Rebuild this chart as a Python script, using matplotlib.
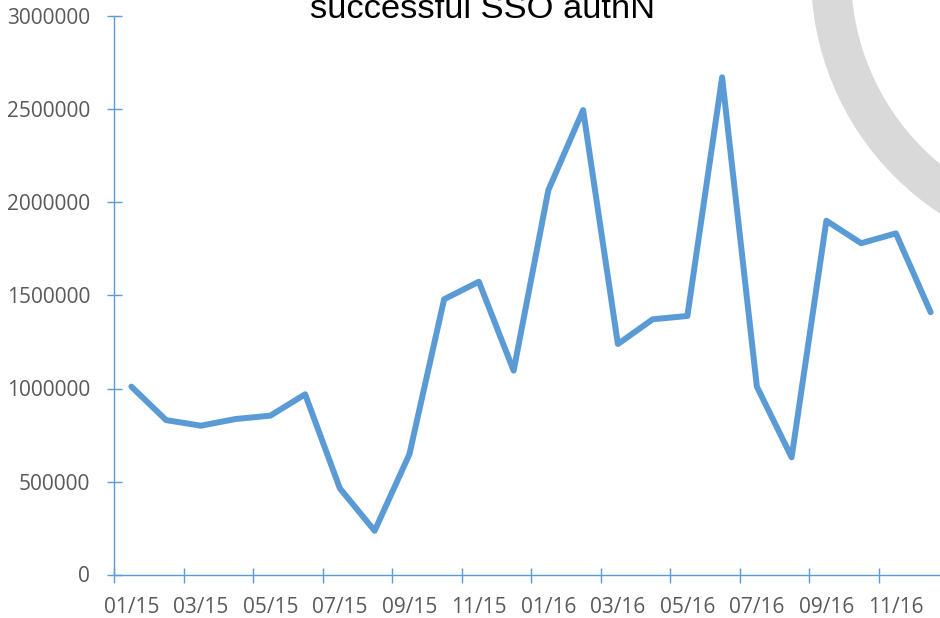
import matplotlib
matplotlib.use("Agg")
import matplotlib.pyplot as plt
import matplotlib.transforms as mtransforms
from matplotlib.patches import Circle

# monthly counts, 01/15 .. 12/16
months = ["01/15", "02/15", "03/15", "04/15", "05/15", "06/15",
          "07/15", "08/15", "09/15", "10/15", "11/15", "12/15",
          "01/16", "02/16", "03/16", "04/16", "05/16", "06/16",
          "07/16", "08/16", "09/16", "10/16", "11/16", "12/16"]
logins = [1010000, 830000, 800000, 836000, 854000, 969000,
          463000, 235000, 646000, 1480000, 1574000, 1096000,
          2067000, 2497000, 1239000, 1372000, 1390000, 2673000,
          1010000, 630000, 1902000, 1781000, 1834000, 1410000]
yticks = [0, 500000, 1000000, 1500000, 2000000, 2500000, 3000000]
title = "successful SSO authN"

blue = "#5b9bd5"
grey_txt = "#595959"

W, H = 940, 618
fig = plt.figure(figsize=(W / 100, H / 100), dpi=100)

# decorative grey arc in the top right corner (pixel coords)
px = mtransforms.Affine2D().scale(1 / W, 1 / H) + fig.transFigure
arc = Circle((1096, H + 25), 265, fill=False, edgecolor="#d9d9d9",
             linewidth=40 * 0.72, transform=px, zorder=0)
fig.add_artist(arc)

ax = fig.add_axes([114 / W, 43.5 / H, 834 / W, 558 / H])
ax.patch.set_visible(False)

x = list(range(len(months)))
ax.plot(x, logins, color=blue, linewidth=4.3,
        solid_capstyle="round", solid_joinstyle="round", zorder=3)

ax.set_xlim(-0.5, len(months) - 0.5)
ax.set_ylim(0, 3000000)

for s in ["top", "right"]:
    ax.spines[s].set_visible(False)
for s in ["left", "bottom"]:
    ax.spines[s].set_color(blue)
    ax.spines[s].set_linewidth(1.0)

ax.set_yticks(yticks)
ax.set_yticklabels([str(v) for v in yticks])

# tick marks between categories, labels centred on every 2nd month
ax.set_xticks([i - 0.5 for i in range(0, len(months) + 1, 2)])
ax.set_xticklabels([])
ax.set_xticks(x[::2], minor=True)
ax.set_xticklabels(months[::2], minor=True)

lab_font = {"family": "Open Sans", "size": 15}
for lbl in ax.get_yticklabels() + ax.get_xticklabels(minor=True):
    lbl.set_fontfamily("Open Sans")
    lbl.set_fontsize(15)

ax.tick_params(axis="y", direction="inout", length=10.8, width=1.0,
               color=blue, labelcolor=grey_txt, pad=11.9)
ax.tick_params(axis="x", which="major", direction="inout", length=10.8,
               width=1.0, color=blue)
ax.tick_params(axis="x", which="minor", length=0, labelcolor=grey_txt,
               pad=16.2)

fig.text(483 / W, 1 - 17.5 / H, title, ha="center", va="baseline",
         fontsize=24.8, family="Liberation Sans", color="black")

fig.savefig("out.png", dpi=100)
